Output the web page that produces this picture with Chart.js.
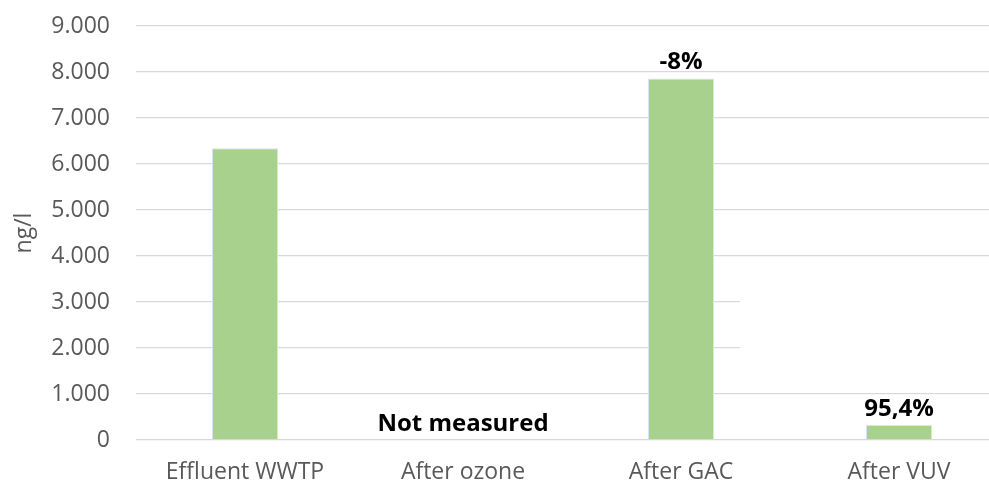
<!DOCTYPE html>
<html>
<head>
<meta charset="utf-8">
<script src="https://cdn.jsdelivr.net/npm/chart.js@4/dist/chart.umd.min.js"></script>
<style>
  html, body { margin: 0; padding: 0; background: #ffffff; overflow: hidden; }
  #wrap { position: absolute; left: 0; top: 0; width: 1010px; height: 483px; }
</style>
</head>
<body>
<div id="wrap"><canvas id="c" width="1010" height="483"></canvas></div>
<script>
// Concentration after each treatment step (ng/l); ozone step was not sampled
const categories = ["Effluent WWTP", "After ozone", "After GAC", "After VUV"];
const concentration = [6340, null, 7860, 325];
const stepLabels = ["", "Not measured", "-8%", "95,4%"];
const yTicks = [0, 1000, 2000, 3000, 4000, 5000, 6000, 7000, 8000, 9000];

const FONT = "'Open Sans', 'Noto Sans', sans-serif";

// Step annotations written above each bar
const stepLabelPlugin = {
  id: "stepLabels",
  afterDatasetsDraw(chart) {
    const { ctx, scales } = chart;
    ctx.save();
    ctx.font = "bold 24px " + FONT;
    ctx.fillStyle = "#000000";
    ctx.textAlign = "center";
    ctx.textBaseline = "alphabetic";
    stepLabels.forEach((txt, i) => {
      if (!txt) return;
      const x = scales.x.getPixelForValue(i);
      const y = scales.y.getPixelForValue(concentration[i] ?? 0);
      ctx.fillText(txt, x, y - 9);
    });
    ctx.restore();
  }
};

// Blank panel on the right side of the plot between 1.500 and 3.500
const blankPanelPlugin = {
  id: "blankPanel",
  beforeDatasetsDraw(chart) {
    const { ctx, scales, chartArea } = chart;
    const x0 = scales.x.getPixelForValue(2.27);
    const yTop = scales.y.getPixelForValue(3400);
    const yBot = scales.y.getPixelForValue(1600);
    ctx.save();
    ctx.fillStyle = "#ffffff";
    ctx.fillRect(x0, yTop, chartArea.right - x0 + 2, yBot - yTop);
    ctx.restore();
  }
};

new Chart(document.getElementById("c"), {
  type: "bar",
  data: {
    labels: categories,
    datasets: [{
      data: concentration,
      backgroundColor: "#a9d18e",
      borderColor: "#dae3f3",
      borderWidth: 1,
      categoryPercentage: 1,
      barPercentage: 0.303
    }]
  },
  options: {
    responsive: false,
    animation: false,
    layout: { padding: { top: 26, right: 2, bottom: 0, left: 0 } },
    plugins: { legend: { display: false }, tooltip: { enabled: false } },
    scales: {
      x: {
        grid: { display: false, drawTicks: false },
        border: { display: false },
        ticks: { color: "#595959", font: { family: FONT, size: 23 }, padding: 19, maxRotation: 0 },
        afterFit(scale) {
          scale.height = 43;
          scale.paddingLeft = 0;
          scale.paddingRight = 0;
        }
      },
      y: {
        min: 0,
        max: 9000,
        afterBuildTicks(scale) { scale.ticks = yTicks.map(v => ({ value: v })); },
        grid: { color: "#d9d9d9", lineWidth: 1.3, drawTicks: false },
        border: { display: false },
        ticks: {
          color: "#595959",
          font: { family: FONT, size: 23 },
          padding: 26,
          callback: v => v === 0 ? "0" : v.toLocaleString("de-DE", { minimumFractionDigits: 0 })
        },
        title: {
          display: true,
          text: "ng/l",
          color: "#595959",
          font: { family: FONT, size: 23 },
          padding: { top: 11, bottom: 0 }
        },
        afterFit(scale) {
          scale.width = 136;
          scale.paddingTop = 0;
          scale.paddingBottom = 0;
        }
      }
    }
  },
  plugins: [blankPanelPlugin, stepLabelPlugin]
});
</script>
</body>
</html>
